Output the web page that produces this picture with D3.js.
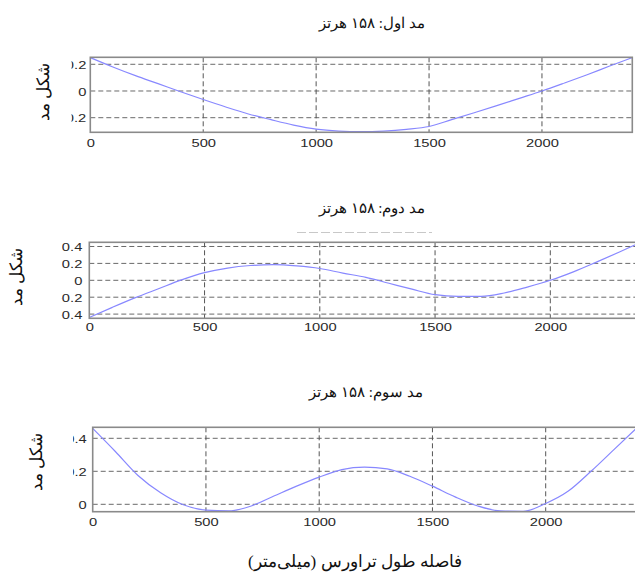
<!DOCTYPE html>
<html>
<head>
<meta charset="utf-8">
<script src="https://cdn.jsdelivr.net/npm/d3@7"></script>
<style>
  html, body { margin: 0; padding: 0; background: #fff; }
  svg { display: block; }
  .tick text { font-family: "Liberation Sans", Arial, sans-serif; fill: #2a2a2a; }
  .fa { font-family: "Times New Roman", "Liberation Serif", "DejaVu Serif", serif; fill: #111; }
</style>
</head>
<body>
<svg id="chart" width="635" height="574"></svg>
<script>
// Traverse positions (mm) where the mode shapes are sampled
const positions = [0, 100, 200, 300, 400, 500, 600, 700, 800, 900, 1000, 1100, 1200,
                   1300, 1400, 1500, 1600, 1700, 1800, 1900, 2000, 2100, 2200, 2300, 2400];

// Mode shape amplitudes
const mode1 = [0.25, 0.18, 0.115, 0.055, -0.006, -0.064, -0.12, -0.172, -0.215, -0.255, -0.285, -0.3, -0.305,
               -0.3, -0.287, -0.266, -0.215, -0.163, -0.11, -0.055, 0.0, 0.06, 0.122, 0.187, 0.25];
const mode2 = [-0.44, -0.32, -0.205, -0.1, 0.005, 0.09, 0.145, 0.175, 0.185, 0.17, 0.14, 0.085, 0.035,
               -0.035, -0.105, -0.17, -0.19, -0.19, -0.15, -0.08, 0.0, 0.1, 0.215, 0.335, 0.46];
const mode3 = [0.46, 0.32, 0.175, 0.07, -0.003, -0.035, -0.04, -0.01, 0.05, 0.11, 0.165, 0.21, 0.225,
               0.215, 0.17, 0.11, 0.045, -0.01, -0.04, -0.042, 0.005, 0.08, 0.2, 0.33, 0.46];

// Axis ticks
const xTicks = [0, 500, 1000, 1500, 2000];
const yTicks1 = [-0.2, 0, 0.2];
const yTicks2 = [-0.4, -0.2, 0, 0.2, 0.4];
const yTicks3 = [0, 0.2, 0.4];

// Text
const titles = ["مد اول: ۱۵۸ هرتز", "مد دوم: ۱۵۸ هرتز", "مد سوم: ۱۵۸ هرتز"];
const yLabel = "شکل مد";
const xLabel = "فاصله طول تراورس (میلی‌متر)";

const svg = d3.select("#chart");

const panels = [
  { values: mode1, yTicks: yTicks1, title: titles[0], x0: 90.3, x1: 632.3, frameRight: 632.3,
    top: 57.3, bottom: 132.3, yDom: [-0.3094, 0.2524], clipLeft: 71.5,
    titleX: 372, titleY: 23, labX: 43, labY: 92, labelGap: 4, xLabDy: 11 },
  { values: mode2, yTicks: yTicks2, title: titles[1], x0: 89.3, x1: 642.5, frameRight: 642.5,
    top: 242.3, bottom: 318.3, yDom: [-0.4497, 0.4497], clipLeft: 61.5,
    titleX: 372, titleY: 208, labX: 16, labY: 277, labelGap: 7, xLabDy: 9 },
  { values: mode3, yTicks: yTicks3, title: titles[2], x0: 92.7, x1: 636.3, frameRight: 636.3,
    top: 427.3, bottom: 511.7, yDom: [-0.0448, 0.4667], clipLeft: 73,
    titleX: 366, titleY: 392, labX: 36, labY: 462, labelGap: 6, xLabDy: 10 }
];

const sx = 1.28; // horizontal stretch of the tick lettering

panels.forEach((p, i) => {
  const x = d3.scaleLinear().domain([0, 2400]).range([p.x0, p.x1]);
  const y = d3.scaleLinear().domain(p.yDom).range([p.bottom, p.top]);
  const g = svg.append("g");

  // clip for plot area
  const clipId = "plot" + i;
  svg.append("clipPath").attr("id", clipId)
    .append("rect").attr("x", p.x0).attr("y", p.top)
    .attr("width", p.frameRight - p.x0).attr("height", p.bottom - p.top);
  const labClip = "lab" + i;
  svg.append("clipPath").attr("id", labClip)
    .append("rect").attr("x", p.clipLeft).attr("y", p.top - 20)
    .attr("width", p.x0 - p.clipLeft).attr("height", p.bottom - p.top + 40);

  // grid
  const grid = g.append("g").attr("clip-path", `url(#${clipId})`);
  grid.selectAll("line.h").data(p.yTicks).join("line")
    .attr("x1", p.x0).attr("x2", p.frameRight)
    .attr("y1", d => y(d)).attr("y2", d => y(d))
    .attr("stroke", "#6a6a6a").attr("stroke-width", 1).attr("stroke-dasharray", "5,3");
  grid.selectAll("line.v").data(xTicks.filter(d => d > 0)).join("line")
    .attr("x1", d => x(d)).attr("x2", d => x(d))
    .attr("y1", p.top).attr("y2", p.bottom)
    .attr("stroke", "#555").attr("stroke-width", 1).attr("stroke-dasharray", "5,3");

  // curve
  const line = d3.line().x((d, k) => x(positions[k])).y(d => y(d)).curve(d3.curveMonotoneX);
  g.append("path").datum(p.values)
    .attr("clip-path", `url(#${clipId})`)
    .attr("d", line).attr("fill", "none")
    .attr("stroke", "#8888ff").attr("stroke-width", 1.2);

  // frame
  g.append("rect").attr("x", p.x0).attr("y", p.top)
    .attr("width", p.frameRight - p.x0).attr("height", p.bottom - p.top)
    .attr("fill", "none").attr("stroke", "#8a8a8a").attr("stroke-width", 1.6);

  // x axis labels
  const xa = g.append("g").attr("transform", `translate(0,${p.bottom})`)
    .call(d3.axisBottom(x).tickValues(xTicks).tickSize(0).tickPadding(0).tickFormat(d3.format("d")));
  xa.select(".domain").remove();
  xa.selectAll("text").attr("y", p.xLabDy).attr("dy", "0.35em")
    .style("font-size", "11.5px").attr("transform", `scale(${sx},1)`);

  // y axis labels (clipped at the left by the outer group)
  const ya = g.append("g").attr("clip-path", `url(#${labClip})`)
    .append("g").attr("transform", `translate(${p.x0},0)`);
  ya.call(d3.axisLeft(y).tickValues(p.yTicks).tickSize(0).tickPadding(0)
      .tickFormat(d => d === 0 ? "0" : d3.format(".1f")(d)));
  ya.select(".domain").remove();
  ya.selectAll("text").attr("x", -p.labelGap / sx).attr("dy", "0.35em")
    .style("font-size", "11.5px").attr("transform", `scale(${sx},1)`);

  // title
  svg.append("text").attr("class", "fa")
    .attr("x", p.titleX).attr("y", p.titleY).attr("dy", "0.35em")
    .attr("text-anchor", "middle").attr("direction", "rtl")
    .style("font-size", "15px").text(p.title);

  // y axis title
  svg.append("text").attr("class", "fa")
    .attr("transform", `translate(${p.labX},${p.labY}) rotate(-90)`)
    .attr("dy", "0.35em").attr("text-anchor", "middle").attr("direction", "rtl")
    .style("font-size", "17px").text(yLabel);
});

// faint dashed stroke above the second panel
svg.append("line").attr("x1", 297).attr("x2", 432).attr("y1", 232.5).attr("y2", 232.5)
  .attr("stroke", "#c8c8c8").attr("stroke-width", 1).attr("stroke-dasharray", "9,3");

// x axis title
svg.append("text").attr("class", "fa")
  .attr("x", 355).attr("y", 561).attr("dy", "0.35em")
  .attr("text-anchor", "middle").attr("direction", "rtl")
  .style("font-size", "17px").text(xLabel);
</script>
</body>
</html>
